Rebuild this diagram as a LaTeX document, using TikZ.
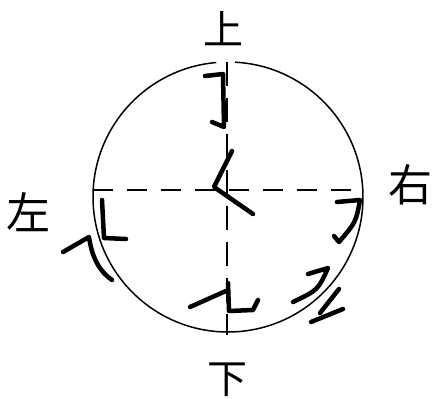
\documentclass[tikz,border=0pt]{standalone}
\usepackage{fontspec}
\newfontfamily\cjk{Noto Sans CJK SC}
\usepackage{tikz}
\usetikzlibrary{arrows,shapes,positioning}

\begin{document}
\begin{tikzpicture}[x=1pt, y=1pt,
    brush/.style={line width=4.5pt, line cap=round, line join=round},
    dir/.style={font=\cjk\fontsize{40}{40}\selectfont, inner sep=0pt}]
    \useasboundingbox (0,0) rectangle (432,-399);

    % the circle and the two axes
    \coordinate (c) at (228,-197);
    \coordinate (w) at (93,-190);
    \coordinate (e) at (363,-190);
    \coordinate (n) at (227,-62);
    \coordinate (s) at (227,-320);
    \coordinate (sb) at (227,-335);
    \draw[line width=1.5pt] (c) ++(95:135) arc (95:447:135);
    \draw[line width=1.4pt, dash pattern=on 20pt off 14pt] (w) -- (e);
    \draw[line width=1.4pt, dash pattern=on 24pt off 12pt] (n) -- (s);
    \draw[line width=1.4pt] (s) -- (sb);

    % direction labels
    \node[dir] (shang) at (223,-29) {上};
    \node[dir] (xia) at (227,-380) {下};
    \node[dir, font=\cjk\fontsize{44}{44}\selectfont] (zuo) at (28,-212) {左};
    \node[dir, font=\cjk\fontsize{44}{44}\selectfont] (you) at (410,-185) {右};

    % strokes
    \draw[brush] (205,-76) -- (223,-74) -- (224,-127) -- (212,-122);
    \draw[brush] (232,-151) -- (214,-187) -- (253,-214);
    \draw[brush] (102,-200) -- (104,-238) -- (126,-239);
    \draw[brush] (63,-252) -- (89,-237) .. controls (92,-258) and (100,-272) .. (112,-280);
    \draw[brush] (337,-202) -- (360,-200) .. controls (356,-222) .. (339,-242) -- (334,-236);
    \draw[brush] (308,-274) -- (328,-268) .. controls (318,-290) .. (293,-302);
    \draw[brush] (339,-289) -- (320,-313);
    \draw[brush] (311,-322) -- (343,-309);
    \draw[brush] (190,-307) -- (226,-291);
    \draw[brush] (228,-283) -- (229,-311) -- (253,-310) -- (258,-300);
\end{tikzpicture}
\end{document}
